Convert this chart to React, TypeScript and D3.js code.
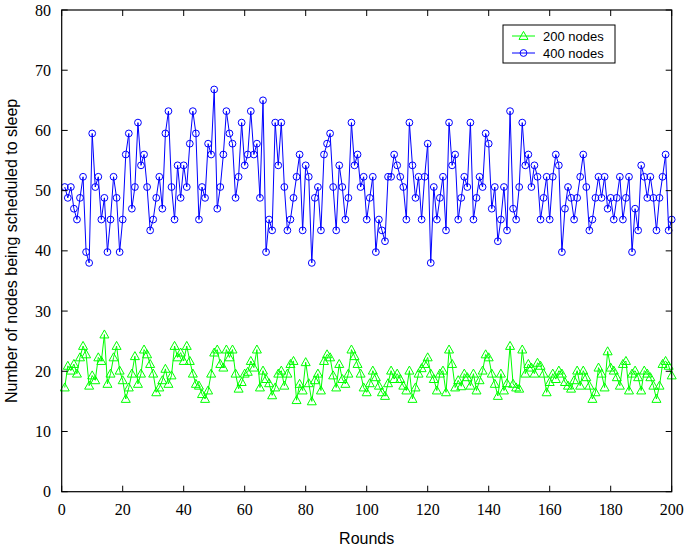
import React from 'react';
import * as d3 from 'd3';

const xTicks = [0, 20, 40, 60, 80, 100, 120, 140, 160, 180, 200];
const yTicks = [0, 10, 20, 30, 40, 50, 60, 70, 80];
const seriesNames = ['200 nodes', '400 nodes'];

const nodes400 = [
  50.6, 48.8, 50.6, 47.0, 45.2, 48.8, 52.3, 39.8, 38.0, 59.5,
  50.6, 52.3, 45.2, 48.8, 39.8, 45.2, 52.3, 48.8, 39.8, 45.2,
  56.0, 59.5, 47.0, 50.6, 61.3, 54.2, 56.0, 50.6, 43.4, 45.2,
  48.8, 52.3, 47.0, 59.5, 63.2, 50.6, 45.2, 54.2, 48.8, 54.2,
  50.6, 57.8, 63.2, 59.5, 45.2, 50.6, 48.8, 57.8, 56.0, 66.8,
  47.0, 50.6, 56.0, 63.2, 59.5, 57.8, 48.8, 52.3, 61.3, 54.2,
  56.0, 63.2, 56.0, 57.8, 48.8, 65.0, 39.8, 45.2, 43.4, 61.3,
  54.2, 61.3, 50.6, 43.4, 45.2, 48.8, 52.3, 56.0, 43.4, 54.2,
  52.3, 38.0, 48.8, 50.6, 43.4, 56.0, 57.8, 59.5, 50.6, 43.4,
  54.2, 50.6, 45.2, 48.8, 61.3, 54.2, 56.0, 50.6, 52.3, 45.2,
  48.8, 52.3, 39.8, 45.2, 43.4, 41.6, 52.3, 52.3, 56.0, 54.2,
  52.3, 50.6, 45.2, 61.3, 54.2, 48.8, 52.3, 45.2, 52.3, 57.8,
  38.0, 50.6, 45.2, 48.8, 52.3, 43.4, 61.3, 54.2, 56.0, 45.2,
  48.8, 52.3, 50.6, 61.3, 45.2, 48.8, 52.3, 50.6, 59.5, 57.8,
  47.0, 50.6, 41.6, 45.2, 50.6, 43.4, 63.2, 47.0, 45.2, 50.6,
  61.3, 54.2, 56.0, 50.6, 54.2, 52.3, 45.2, 48.8, 52.3, 45.2,
  52.3, 56.0, 54.2, 39.8, 47.0, 50.6, 48.8, 45.2, 48.8, 52.3,
  56.0, 50.6, 43.4, 45.2, 48.8, 52.3, 48.8, 52.3, 47.0, 48.8,
  45.2, 48.8, 52.3, 45.2, 48.8, 52.3, 39.8, 47.0, 43.4, 54.2,
  52.3, 48.8, 52.3, 48.8, 43.4, 48.8, 52.3, 56.0, 43.4, 45.2,
];

const nodes200 = [
  17.3, 20.9, 20.1, 21.2, 19.6, 22.3, 24.2, 22.8, 17.6, 19.3,
  18.5, 22.3, 21.7, 26.1, 17.9, 19.6, 22.3, 24.2, 20.1, 18.5,
  15.4, 17.3, 19.6, 22.5, 17.9, 19.6, 23.6, 22.8, 21.2, 19.6,
  16.5, 17.3, 18.5, 20.4, 17.9, 19.3, 24.2, 22.3, 23.1, 21.7,
  24.2, 21.7, 19.6, 17.9, 17.6, 16.2, 15.4, 16.8, 19.6, 23.1,
  23.6, 21.2, 20.6, 23.6, 22.3, 23.6, 19.6, 17.1, 18.2, 19.6,
  19.9, 21.7, 20.6, 23.6, 17.3, 20.1, 18.7, 18.0, 16.0, 17.3,
  19.6, 20.1, 17.6, 19.6, 21.2, 21.7, 15.2, 17.9, 16.8, 21.5,
  18.0, 15.0, 18.5, 19.6, 16.8, 21.7, 22.8, 22.3, 19.3, 17.3,
  21.2, 18.7, 17.9, 19.6, 23.6, 22.5, 21.2, 19.6, 17.3, 16.5,
  18.0, 20.1, 19.0, 17.6, 16.5, 15.9, 18.0, 20.1, 18.7, 19.6,
  18.7, 17.6, 16.8, 20.1, 15.4, 17.3, 19.6, 20.5, 21.2, 22.3,
  19.6, 18.7, 16.8, 19.6, 20.1, 16.5, 23.6, 21.2, 17.3, 18.5,
  17.5, 19.6, 19.0, 17.6, 19.6, 16.8, 18.5, 20.1, 22.8, 22.3,
  19.6, 17.9, 15.9, 19.6, 16.8, 18.0, 24.2, 17.9, 17.3, 17.1,
  23.6, 19.6, 21.2, 20.6, 19.6, 21.4, 20.9, 19.6, 16.5, 18.2,
  19.6, 18.7, 20.1, 19.6, 18.2, 17.6, 17.1, 18.5, 20.1, 17.6,
  20.1, 19.0, 17.6, 15.4, 16.5, 20.6, 19.6, 17.3, 23.3, 20.6,
  20.1, 19.0, 17.6, 21.2, 21.7, 16.8, 19.6, 20.1, 19.0, 16.8,
  20.1, 19.6, 19.0, 17.6, 15.4, 17.6, 21.2, 21.7, 20.9, 19.3,
];

const rounds = nodes400.map((_, i) => i + 1);

const W = 685;
const H = 548;
const L = 61.7;
const R = 671.7;
const T = 10;
const B = 491.7;

const GREEN = '#00ff00';
const BLUE = '#0000ff';
const SANS = '"Liberation Sans", Arial, Helvetica, sans-serif';
const SERIF = '"Liberation Serif", "Times New Roman", serif';

const tri = 'M0,-4.6L4.5,3.4L-4.5,3.4Z';

export default function App() {
  const x = d3.scaleLinear().domain([0, 200]).range([L, R]);
  const y = d3.scaleLinear().domain([0, 80]).range([B, T]);
  const line = d3
    .line<number>()
    .x((_, i) => x(rounds[i]))
    .y((d) => y(d));

  return (
    <svg
      width={W}
      height={H}
      style={{ position: 'absolute', left: 0, top: 0, background: '#fff' }}
    >
      <rect x={0} y={0} width={W} height={H} fill="#fff" />
      <path d={line(nodes200) || ''} fill="none" stroke={GREEN} strokeWidth={1} />
      {nodes200.map((v, i) => (
        <path
          key={'g' + i}
          d={tri}
          transform={`translate(${x(rounds[i])},${y(v)})`}
          fill="none"
          stroke={GREEN}
          strokeWidth={1}
        />
      ))}
      <path d={line(nodes400) || ''} fill="none" stroke={BLUE} strokeWidth={1} />
      {nodes400.map((v, i) => (
        <circle
          key={'b' + i}
          cx={x(rounds[i])}
          cy={y(v)}
          r={3.4}
          fill="none"
          stroke={BLUE}
          strokeWidth={1}
        />
      ))}
      <rect x={L} y={T} width={R - L} height={B - T} fill="none" stroke="#000" strokeWidth={1.2} />
      {xTicks.map((t) => (
        <g key={'xt' + t}>
          <line x1={x(t)} x2={x(t)} y1={B} y2={B - 6} stroke="#000" strokeWidth={1} />
          <line x1={x(t)} x2={x(t)} y1={T} y2={T + 6} stroke="#000" strokeWidth={1} />
          <text
            x={x(t)}
            y={515}
            textAnchor="middle"
            fontFamily={SERIF}
            fontSize={16}
            fill="#000"
          >
            {t}
          </text>
        </g>
      ))}
      {yTicks.map((t) => (
        <g key={'yt' + t}>
          <line x1={L} x2={L + 6} y1={y(t)} y2={y(t)} stroke="#000" strokeWidth={1} />
          <line x1={R} x2={R - 6} y1={y(t)} y2={y(t)} stroke="#000" strokeWidth={1} />
          <text
            x={51}
            y={y(t) + 5.5}
            textAnchor="end"
            fontFamily={SERIF}
            fontSize={16}
            fill="#000"
          >
            {t}
          </text>
        </g>
      ))}
      <text
        x={(L + R) / 2}
        y={544}
        textAnchor="middle"
        fontFamily={SANS}
        fontSize={16}
        fill="#000"
      >
        Rounds
      </text>
      <text
        transform={`translate(17,${(T + B) / 2}) rotate(-90)`}
        textAnchor="middle"
        fontFamily={SANS}
        fontSize={16}
        fill="#000"
      >
        Number of nodes being scheduled to sleep
      </text>
      <rect x={503} y={25} width={112} height={38} fill="#fff" stroke="#000" strokeWidth={1} />
      <line x1={512} x2={535} y1={36} y2={36} stroke={GREEN} strokeWidth={1} />
      <path d={tri} transform="translate(523.5,36)" fill="none" stroke={GREEN} strokeWidth={1} />
      <text x={543} y={40.5} fontFamily={SANS} fontSize={13} fill="#000">
        {seriesNames[0]}
      </text>
      <line x1={512} x2={535} y1={53} y2={53} stroke={BLUE} strokeWidth={1} />
      <circle cx={523.5} cy={53} r={3.4} fill="none" stroke={BLUE} strokeWidth={1} />
      <text x={543} y={57.5} fontFamily={SANS} fontSize={13} fill="#000">
        {seriesNames[1]}
      </text>
    </svg>
  );
}
